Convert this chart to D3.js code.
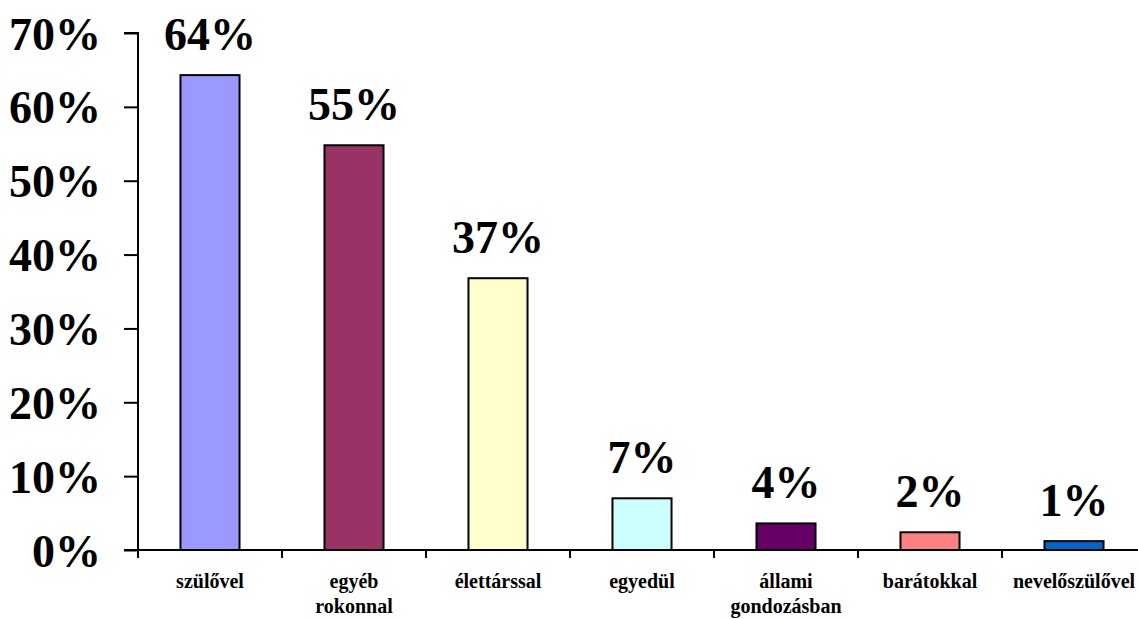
<!DOCTYPE html>
<html>
<head>
<meta charset="utf-8">
<script src="https://cdn.jsdelivr.net/npm/d3@7"></script>
<style>
  body { margin: 0; background: #fff; }
  text { font-family: "Liberation Serif", "Times New Roman", serif; font-weight: bold; }
</style>
</head>
<body>
<svg id="chart"></svg>
<script>
let w = 1138;
let h = 619;
let categories = ["szülővel", "egyéb rokonnal", "élettárssal", "egyedül", "állami gondozásban", "barátokkal", "nevelőszülővel"];
let categoryLines = [["szülővel"], ["egyéb", "rokonnal"], ["élettárssal"], ["egyedül"], ["állami", "gondozásban"], ["barátokkal"], ["nevelőszülővel"]];
let values = [64.3, 54.8, 36.8, 7.0, 3.6, 2.4, 1.2];
let labels = ["64%", "55%", "37%", "7%", "4%", "2%", "1%"];
let colors = ["#9999FF", "#993366", "#FFFFCC", "#CCFFFF", "#660066", "#FF8080", "#0066CC"];
let yTicks = [0, 10, 20, 30, 40, 50, 60, 70];

let svg = d3.select("#chart").attr("width", w).attr("height", h);

let xScale = d3.scaleBand()
               .domain(categories)
               .range([138, 1146])
               .paddingInner(0.59)
               .paddingOuter(0.295);

let yScale = d3.scaleLinear()
               .domain([0, 70])
               .range([550, 33]);

// y axis
let yAxis = d3.axisLeft(yScale)
              .tickValues(yTicks)
              .tickSize(14)
              .tickPadding(23)
              .tickFormat((d) => d + "%");

let yg = svg.append("g")
            .attr("transform", "translate(138, 0)")
            .call(yAxis);
yg.select(".domain").attr("stroke", "#000").attr("stroke-width", 2).attr("d", "M-14,33H0V550H-14");
yg.selectAll(".tick line").attr("stroke", "#000").attr("stroke-width", 2);
yg.selectAll(".tick text")
  .attr("fill", "#000")
  .style("font-size", "46px")
  .attr("dy", "0.35em");

// x axis line and category ticks
svg.append("line")
   .attr("x1", 138).attr("x2", w)
   .attr("y1", yScale(0)).attr("y2", yScale(0))
   .attr("stroke", "#000").attr("stroke-width", 2);

let step = xScale.step();
svg.selectAll(".xtick")
   .data(categories)
   .enter()
   .append("line")
   .attr("class", "xtick")
   .attr("x1", (d) => xScale(d) - xScale.paddingInner() * step / 2)
   .attr("x2", (d) => xScale(d) - xScale.paddingInner() * step / 2)
   .attr("y1", yScale(0))
   .attr("y2", yScale(0) + 8)
   .attr("stroke", "#000").attr("stroke-width", 2);

// bars
svg.selectAll(".bar")
   .data(values)
   .enter()
   .append("rect")
   .attr("class", "bar")
   .attr("x", (d, i) => xScale(categories[i]))
   .attr("y", (d) => yScale(d))
   .attr("width", xScale.bandwidth())
   .attr("height", (d) => yScale(0) - yScale(d))
   .attr("fill", (d, i) => colors[i])
   .attr("stroke", "#000")
   .attr("stroke-width", 2);

// value labels
svg.selectAll(".val")
   .data(values)
   .enter()
   .append("text")
   .attr("class", "val")
   .attr("x", (d, i) => xScale(categories[i]) + xScale.bandwidth() / 2)
   .attr("y", (d) => yScale(d) - 25)
   .attr("text-anchor", "middle")
   .style("font-size", "46px")
   .text((d, i) => labels[i]);

// category labels
let catG = svg.selectAll(".cat")
   .data(categoryLines)
   .enter()
   .append("text")
   .attr("class", "cat")
   .attr("text-anchor", "middle")
   .style("font-size", "20px")
   .attr("transform", (d, i) => `translate(${xScale(categories[i]) + xScale.bandwidth() / 2}, 588)`);

catG.selectAll("tspan")
    .data((d) => d)
    .enter()
    .append("tspan")
    .attr("x", 0)
    .attr("dy", (d, i) => i === 0 ? 0 : 25)
    .text((d) => d);
</script>
</body>
</html>
